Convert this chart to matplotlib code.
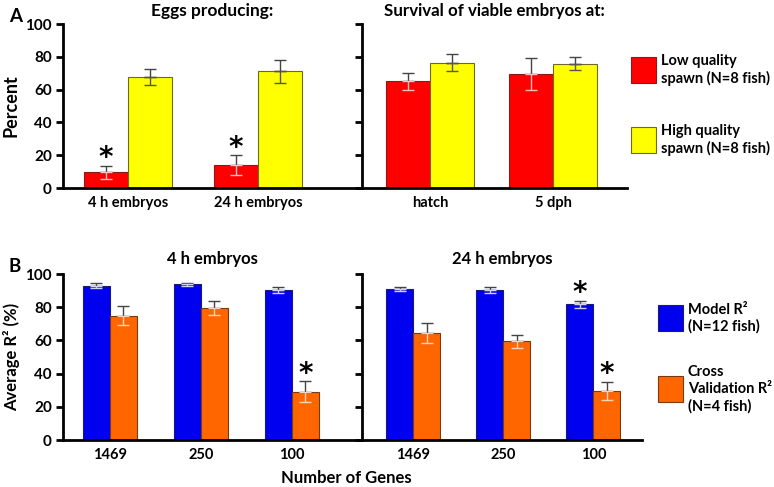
import matplotlib
matplotlib.use('Agg')
import matplotlib.pyplot as plt
from matplotlib.patches import Rectangle
import numpy as np

plt.rcParams['font.family'] = ['Lato', 'DejaVu Sans']
plt.rcParams['font.weight'] = 'bold'

# Panel A data
eggs_groups = ['4 h embryos', '24 h embryos']
eggs_low = [9.5, 14]
eggs_low_err = [4.0, 6.0]
eggs_high = [67.5, 71.2]
eggs_high_err = [5.0, 7.0]
eggs_star = [True, True]

surv_groups = ['hatch', '5 dph']
surv_low = [65.0, 69.5]
surv_low_err = [5.3, 10.0]
surv_high = [76.5, 75.8]
surv_high_err = [5.0, 4.0]

# Panel B data
genes = ['1469', '250', '100']
r2_4h_model = [93.0, 93.8, 90.3]
r2_4h_model_err = [1.5, 1.0, 1.6]
r2_4h_cv = [75.0, 79.8, 29.2]
r2_4h_cv_err = [5.7, 4.2, 6.3]
r2_4h_stars = [(False, False), (False, False), (False, True)]

r2_24h_model = [90.9, 90.3, 81.8]
r2_24h_model_err = [1.4, 1.8, 2.2]
r2_24h_cv = [64.6, 59.4, 29.7]
r2_24h_cv_err = [6.0, 3.7, 5.5]
r2_24h_stars = [(False, False), (False, False), (True, True)]

RED, YELLOW, BLUE, ORANGE = '#FF0000', '#FFFF00', '#0000F0', '#FF6600'
EDGE = {RED: '#8a1a1a', YELLOW: '#6b6b20', BLUE: '#1a1a70', ORANGE: '#7a3a10'}
LOWERR = {RED: '#f4c0c0', YELLOW: '#555555', BLUE: '#d0d0f0', ORANGE: '#f6d2b8'}

W, H = 774, 487
fig = plt.figure(figsize=(W / 100, H / 100), dpi=100)


def ax_px(x0, x1, ytop, ybot):
    return fig.add_axes([x0 / W, 1 - ybot / H, (x1 - x0) / W, (ybot - ytop) / H])


def style(ax, labels, xlim, show_ylab=True):
    ax.set_ylim(0, 100)
    ax.set_xlim(*xlim)
    ax.set_yticks([0, 20, 40, 60, 80, 100])
    for s in ['top', 'right']:
        ax.spines[s].set_visible(False)
    for s in ['left', 'bottom']:
        ax.spines[s].set_linewidth(2)
    ax.tick_params(axis='y', direction='out', length=5, width=2, labelsize=11, pad=3)
    ax.tick_params(axis='x', length=0, labelsize=10.5, pad=6)
    ax.set_xticks(np.arange(len(labels)))
    ax.set_xticklabels(labels, fontweight='bold')
    if show_ylab:
        for t in ax.get_yticklabels():
            t.set_fontweight('bold')
    else:
        ax.set_yticklabels([])
    ax.patch.set_alpha(0)


def bars(ax, x, vals, errs, color, width, stars=None):
    ax.bar(x, vals, width, color=color, edgecolor=EDGE[color], linewidth=0.8, zorder=2)
    ax.errorbar(x, vals, yerr=[np.zeros(len(errs)), errs], fmt='none',
                ecolor='#444444', elinewidth=1, capsize=4, capthick=1, zorder=3)
    ax.errorbar(x, vals, yerr=[errs, np.zeros(len(errs))], fmt='none',
                ecolor=LOWERR[color], elinewidth=1, capsize=4, capthick=1, zorder=3)
    if stars is not None:
        for xi, v, e, s in zip(x, vals, errs, stars):
            if s:
                ax.text(xi, v + e + 4.5, '*', ha='center', va='center',
                        fontsize=20, fontweight='bold', family='DejaVu Sans')


# ---- Panel A ----
axA1 = ax_px(63, 362, 24, 188)
axA2 = ax_px(362, 627, 24, 188)
wA1 = 44 / 130
x = np.arange(len(eggs_groups))
bars(axA1, x - wA1 / 2, eggs_low, eggs_low_err, RED, wA1, eggs_star)
bars(axA1, x + wA1 / 2, eggs_high, eggs_high_err, YELLOW, wA1)
style(axA1, eggs_groups, (-0.5, 1.8))
axA1.set_ylabel('Percent', fontsize=13, fontweight='bold', labelpad=4)
axA1.set_title('Eggs producing:', fontsize=12.5, fontweight='bold', pad=6)

wA2 = 44 / 123
x = np.arange(len(surv_groups))
bars(axA2, x - wA2 / 2, surv_low, surv_low_err, RED, wA2)
bars(axA2, x + wA2 / 2, surv_high, surv_high_err, YELLOW, wA2)
style(axA2, surv_groups, (-0.553, 1.60), show_ylab=False)
axA2.set_title('Survival of viable embryos at:', fontsize=12.2, fontweight='bold', pad=6)

# ---- Panel B ----
axB1 = ax_px(63, 362, 274, 440)
axB2 = ax_px(362, 642, 274, 440)
wB1 = 27 / 91
x = np.arange(len(genes))
bars(axB1, x - wB1 / 2, r2_4h_model, r2_4h_model_err, BLUE, wB1, [s[0] for s in r2_4h_stars])
bars(axB1, x + wB1 / 2, r2_4h_cv, r2_4h_cv_err, ORANGE, wB1, [s[1] for s in r2_4h_stars])
style(axB1, genes, (-0.516, 2.77))
axB1.set_ylabel('Average R² (%)', fontsize=12, fontweight='bold', labelpad=4)
axB1.set_title('4 h embryos', fontsize=12, fontweight='bold', pad=7)

wB2 = 27 / 90
bars(axB2, x - wB2 / 2, r2_24h_model, r2_24h_model_err, BLUE, wB2, [s[0] for s in r2_24h_stars])
bars(axB2, x + wB2 / 2, r2_24h_cv, r2_24h_cv_err, ORANGE, wB2, [s[1] for s in r2_24h_stars])
style(axB2, genes, (-0.567, 2.54), show_ylab=False)
axB2.set_title('24 h embryos', fontsize=12, fontweight='bold', pad=7)

fig.text(346 / W, 1 - 478 / H, 'Number of Genes', ha='center', va='center',
         fontsize=12, fontweight='bold')

# panel letters
fig.text(9 / W, 1 - 17 / H, 'A', fontsize=13.5, fontweight='bold', va='center')
fig.text(9 / W, 1 - 267 / H, 'B', fontsize=13.5, fontweight='bold', va='center')


# legends
def legend_box(x0, ytop, color, lines, line_h=17):
    fig.patches.append(Rectangle((x0 / W, 1 - (ytop + 26) / H), 25 / W, 26 / H,
                                 transform=fig.transFigure, facecolor=color,
                                 edgecolor=EDGE[color], linewidth=0.8))
    n = len(lines)
    yc = ytop + 13
    for i, t in enumerate(lines):
        yy = yc + (i - (n - 1) / 2) * line_h
        fig.text((x0 + 30) / W, 1 - yy / H, t, fontsize=10.5, fontweight='bold', va='center')


legend_box(631, 57, RED, ['Low quality', 'spawn (N=8 fish)'])
legend_box(631, 127, YELLOW, ['High quality', 'spawn (N=8 fish)'])
legend_box(658, 305, BLUE, ['Model R²', '(N=12 fish)'])
legend_box(658, 376, ORANGE, ['Cross', 'Validation R²', '(N=4 fish)'])

fig.savefig('out.png', dpi=100)
